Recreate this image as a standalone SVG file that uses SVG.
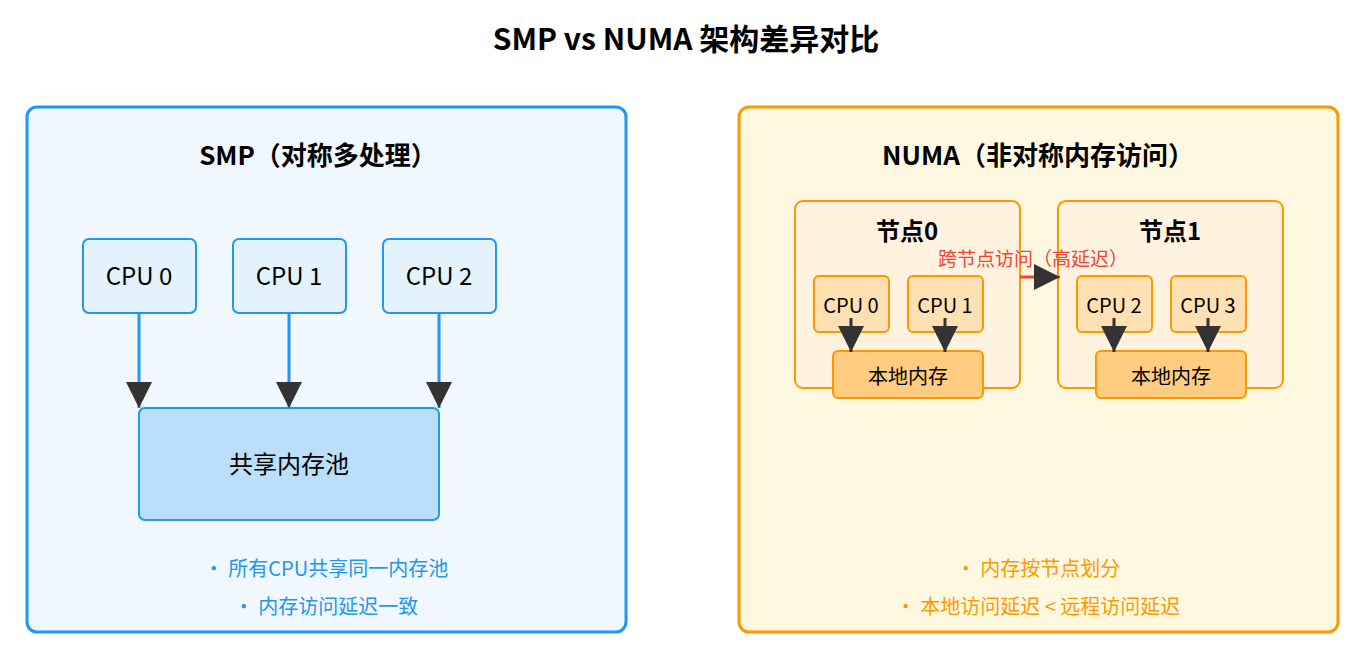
<svg xmlns="http://www.w3.org/2000/svg" width="1372" height="655" viewBox="0 0 1372 655">
<defs>
<marker id="ab" markerWidth="26" markerHeight="36" refX="26" refY="13" orient="auto" markerUnits="userSpaceOnUse" viewBox="0 0 26 26"><path d="M0,0 L26,13 L0,26 Z" fill="#333"/></marker>
<style>
text{font-family:"Noto Sans CJK SC","Noto Sans",sans-serif;text-anchor:middle}
.t{font-size:30px;font-weight:bold}
.h{font-size:26px;font-weight:bold}
.cpu{fill:#e3f2fd;stroke:#2196f3;stroke-width:2}
.c{font-size:24px}
.ncpu{fill:#ffe0b2;stroke:#ff9800;stroke-width:2}
.mem{fill:#ffcc80;stroke:#ff9800;stroke-width:2}
.s{font-size:20px}
</style>
</defs>
<rect width="1372" height="655" fill="#fff"/>
<text x="686" y="50" class="t">SMP vs NUMA 架构差异对比</text>
<g id="smp">
<rect x="27" y="107" width="599" height="525" rx="10" fill="#f0f7fe" stroke="#2196f3" stroke-width="3"/>
<text x="318" y="165" class="h">SMP（对称多处理）</text>
</g>
<g id="cpu0"><rect x="83" y="239" width="113" height="74" rx="6" class="cpu"/><text x="139" y="285" class="c">CPU 0</text></g>
<g id="cpu1"><rect x="233" y="239" width="113" height="74" rx="6" class="cpu"/><text x="289" y="285" class="c">CPU 1</text></g>
<g id="cpu2"><rect x="383" y="239" width="113" height="74" rx="6" class="cpu"/><text x="439" y="285" class="c">CPU 2</text></g>
<g id="pool"><rect x="139" y="408" width="300" height="112" rx="6" fill="#bbdefb" stroke="#2196f3" stroke-width="2"/><text x="289" y="473" class="c">共享内存池</text></g>
<text x="326" y="576" class="s" fill="#2196f3">• 所有CPU共享同一内存池</text>
<text x="326" y="614" class="s" fill="#2196f3">• 内存访问延迟一致</text>
<g id="numa">
<rect x="739" y="107" width="599" height="525" rx="10" fill="#fff8e1" stroke="#ff9800" stroke-width="3"/>
<text x="1038" y="165" class="h">NUMA（非对称内存访问）</text>
</g>
<g id="node0"><rect x="795" y="201" width="225" height="187" rx="8" fill="#fff3e0" stroke="#ff9800" stroke-width="2"/><text x="907" y="240" class="h" style="font-size:24px">节点0</text></g>
<g id="node1"><rect x="1058" y="201" width="225" height="187" rx="8" fill="#fff3e0" stroke="#ff9800" stroke-width="2"/><text x="1170" y="240" class="h" style="font-size:24px">节点1</text></g>
<g id="n0c0"><rect x="814" y="276" width="75" height="56" rx="5" class="ncpu"/><text x="851" y="313" class="s">CPU 0</text></g>
<g id="n0c1"><rect x="908" y="276" width="75" height="56" rx="5" class="ncpu"/><text x="945" y="313" class="s">CPU 1</text></g>
<g id="n1c2"><rect x="1077" y="276" width="75" height="56" rx="5" class="ncpu"/><text x="1114" y="313" class="s">CPU 2</text></g>
<g id="n1c3"><rect x="1171" y="276" width="75" height="56" rx="5" class="ncpu"/><text x="1208" y="313" class="s">CPU 3</text></g>
<g id="mem0"><rect x="833" y="351" width="150" height="47" rx="5" class="mem"/><text x="908" y="384" class="s">本地内存</text></g>
<g id="mem1"><rect x="1096" y="351" width="150" height="47" rx="5" class="mem"/><text x="1171" y="384" class="s">本地内存</text></g>
<g id="connectors" stroke-width="3" fill="none">
<path d="M139,313 V408" stroke="#2196f3" marker-end="url(#ab)"/>
<path d="M289,313 V408" stroke="#2196f3" marker-end="url(#ab)"/>
<path d="M439,313 V408" stroke="#2196f3" marker-end="url(#ab)"/>
<path d="M851,318 V352" stroke="#333" marker-end="url(#ab)"/>
<path d="M945,318 V352" stroke="#333" marker-end="url(#ab)"/>
<path d="M1114,318 V352" stroke="#333" marker-end="url(#ab)"/>
<path d="M1208,318 V352" stroke="#333" marker-end="url(#ab)"/>
<path d="M1020,277 H1060" stroke="#f44336" marker-end="url(#ab)"/>
</g>
<text x="1033" y="266" class="s" fill="#f44336" style="font-size:19px">跨节点访问（高延迟）</text>
<text x="1038" y="576" class="s" fill="#ff9800">• 内存按节点划分</text>
<text x="1038" y="614" class="s" fill="#ff9800">• 本地访问延迟 &lt; 远程访问延迟</text>
</svg>
